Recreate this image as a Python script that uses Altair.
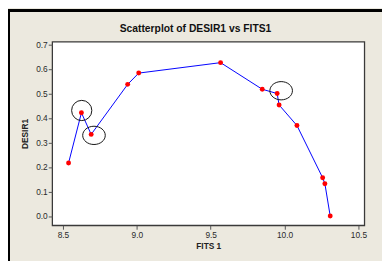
import altair as alt
import pandas as pd

# data
fits = [8.538, 8.625, 8.691, 8.938, 9.013, 9.567, 9.849, 9.950, 9.963, 10.084, 10.258, 10.273, 10.309]
desir = [0.2165, 0.421, 0.333, 0.537, 0.583, 0.6255, 0.517, 0.4996, 0.453, 0.369, 0.156, 0.132, 0.0]
ring_x = [8.627]
ring_y = [0.4305]
oval_x = [8.710, 9.977]
oval_y = [0.329, 0.511]
x_ticks = [8.5, 9.0, 9.5, 10.0, 10.5]
y_ticks = [0.0, 0.1, 0.2, 0.3, 0.4, 0.5, 0.6, 0.7]
title_text = ["Scatterplot of DESIR1 vs FITS1"]

df = pd.DataFrame({"FITS1": fits, "DESIR1": desir, "order": list(range(len(fits)))})
ring_df = pd.DataFrame({"FITS1": ring_x, "DESIR1": ring_y})
oval_df = pd.DataFrame({"FITS1": oval_x, "DESIR1": oval_y})
title_df = pd.DataFrame({"t": title_text})

xs = alt.Scale(domain=[8.427, 10.540], nice=False, zero=False)
ys = alt.Scale(domain=[-0.0377, 0.7108], nice=False, zero=False)

FONT = "Liberation Sans"
xax = alt.Axis(values=x_ticks, format=".1f", title="FITS 1", grid=False, domain=False,
               tickSize=4, tickColor="#555", labelPadding=1, labelFont=FONT, labelFontSize=8.5,
               labelColor="#2a2a2a", labelOverlap=False, titleFont=FONT, titleFontSize=8.5,
               titleFontWeight="bold", titleColor="#222", titlePadding=3)
yax = alt.Axis(values=y_ticks, format=".1f", title="DESIR1", grid=False, domain=False,
               tickSize=4, tickColor="#555", labelPadding=1, labelFont=FONT, labelFontSize=8.5,
               labelColor="#2a2a2a", labelOverlap=False, titleFont=FONT, titleFontSize=8.5,
               titleFontWeight="bold", titleColor="#222", titlePadding=6)

X = alt.X("FITS1:Q", scale=xs, axis=xax)
Y = alt.Y("DESIR1:Q", scale=ys, axis=yax)

base = alt.Chart(df)
line = base.mark_line(color="#0000FF", strokeWidth=1).encode(x=X, y=Y, order="order:Q")
pts = base.mark_point(shape="circle", filled=True, color="#FF0000", size=25, opacity=1).encode(x=X, y=Y)
rings = alt.Chart(ring_df).mark_point(shape="circle", filled=False, color="#111", size=424,
                                      strokeWidth=1, opacity=1).encode(x=X, y=Y)
ellipse = "M-1.15,0A1.15,0.93,0,1,0,1.15,0A1.15,0.93,0,1,0,-1.15,0Z"
ovals = alt.Chart(oval_df).mark_point(shape=ellipse, filled=False, color="#111", size=400,
                                      strokeWidth=1, opacity=1).encode(x=X, y=Y)
left_border = alt.Chart(df).mark_rule(color="#000", strokeWidth=2).encode(
    x=alt.value(-44), y=alt.value(-32), y2=alt.value(240)
)
top_border = alt.Chart(df).mark_rule(color="#000", strokeWidth=2).encode(
    x=alt.value(-45), x2=alt.value(340), y=alt.value(-31.5)
)
title = alt.Chart(title_df).mark_text(font=FONT, fontSize=10.5, fontWeight="bold", color="#111",
                                      align="center", baseline="alphabetic").encode(
    text="t:N", x=alt.value(146), y=alt.value(-9.5)
)

chart = alt.layer(line, pts, rings, ovals, left_border, top_border, title).properties(
    width=318,
    height=187,
    autosize=alt.AutoSizeParams(type="none"),
    padding={"left": 45, "top": 32, "right": 18, "bottom": 34},
    background="#ECE9DF",
).configure_view(stroke="#3a3a3a", strokeWidth=1.3, fill="#FFFFFF")

chart.save("out.html", embed_options={"renderer": "svg", "actions": False})
